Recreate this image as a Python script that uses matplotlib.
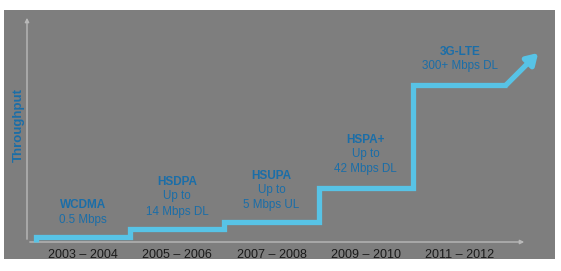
import numpy as np
import matplotlib.pyplot as plt
from matplotlib.patches import Rectangle

plt.rcParams['font.family'] = ['Liberation Sans', 'DejaVu Sans']

# %% DATA
periods = ['2003 – 2004', '2005 – 2006', '2007 – 2008', '2009 – 2010', '2011 – 2012']
techs = ['WCDMA', 'HSDPA', 'HSUPA', 'HSPA+', '3G-LTE']
speeds = ['0.5 Mbps', 'Up to\n14 Mbps DL', 'Up to\n5 Mbps UL', 'Up to\n42 Mbps DL', '300+ Mbps DL']
throughput = [2.2, 5.7, 8.8, 23.8, 69.2]   # relative level of each step
label_level = [13.5, 23.8, 26.6, 42.5, 81]   # where the annotation sits
arrow_tip = (4.83, 83.3)

# %% COLORS
panel_gray = '#7e7e7e'
step_blue = '#57c3e6'
text_blue = '#1b6ea8'
axis_gray = '#b9b9b9'

W, H = 561, 271
fig = plt.figure(figsize=(W / 100, H / 100), dpi=100)
fig.patch.set_facecolor('white')
fig.patches.append(Rectangle((4 / W, (H - 259) / H), 551 / W, 249 / H,
                             transform=fig.transFigure, facecolor=panel_gray,
                             edgecolor='none', zorder=-5))

# axes: left spine at x=27px, bottom at y=242px, up to y=15px, right to 527px
ax = fig.add_axes([27 / W, (H - 242) / H, 500 / W, 227 / H])
ax.set_facecolor('none')
ax.set_xlim(-0.594, 4.711)
ax.set_ylim(0, 100)
for s in ['top', 'right', 'left', 'bottom']:
    ax.spines[s].set_visible(False)
ax.set_xticks([])
ax.set_yticks([])

# axis lines with small arrow heads
ax.annotate('', xy=(0, 1), xytext=(0, 0), xycoords='axes fraction',
            arrowprops=dict(arrowstyle='-|>', color=axis_gray, lw=1, mutation_scale=6))
ax.annotate('', xy=(1, 0), xytext=(0, 0), xycoords='axes fraction',
            arrowprops=dict(arrowstyle='-|>', color=axis_gray, lw=1, mutation_scale=6))

# step line
n = len(throughput)
idx = np.arange(n)
xs = np.concatenate([[-0.5], np.repeat(idx - 0.5, 2)[1:], [n - 0.5]])
ys = np.concatenate([[0], np.repeat(throughput, 2)])
ax.plot(xs, ys, color=step_blue, lw=3.8, solid_joinstyle='miter',
        solid_capstyle='butt', clip_on=False, zorder=3)
ax.annotate('', xy=arrow_tip, xytext=(n - 0.5 - 0.01, throughput[-1]),
            arrowprops=dict(arrowstyle='-|>,head_length=0.65,head_width=0.4',
                            color=step_blue, lw=3.8, shrinkA=0, shrinkB=0),
            annotation_clip=False, zorder=3)

# annotations
for i in idx:
    ax.text(i, label_level[i], techs[i], color=text_blue, fontsize=8.5,
            fontweight='bold', ha='center', va='bottom')
    ax.text(i, label_level[i] - 1.0, speeds[i], color=text_blue, fontsize=8.4,
            ha='center', va='top', linespacing=1.4)
    ax.text(i, -3.2, periods[i], color='#1a1a1a', fontsize=9,
            ha='center', va='top')

fig.text(19 / W, 1 - 125 / H, 'Throughput', rotation=90, color=text_blue,
         fontsize=9.5, fontweight='bold', ha='center', va='center')

plt.savefig('out.png', dpi=100)
